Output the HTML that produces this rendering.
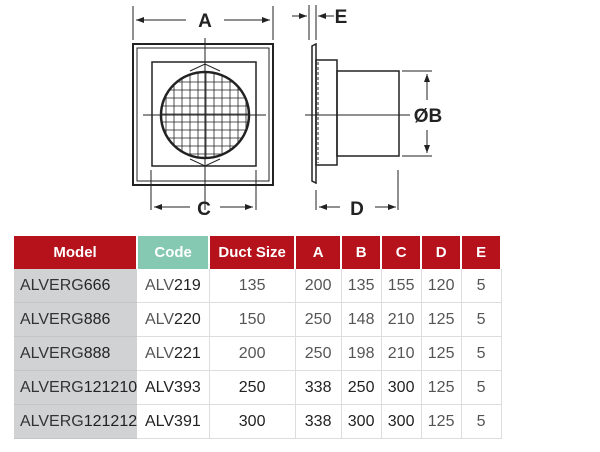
<!DOCTYPE html>
<html><head><meta charset="utf-8"><style>
body{margin:0;background:#fff;width:600px;height:452px;position:relative;overflow:hidden;font-family:"Liberation Sans",sans-serif}
svg{position:absolute;left:0;top:0}
table{position:absolute;left:14px;top:236px;border-collapse:collapse;table-layout:fixed}
td{height:33px;padding:0;text-align:center;font-size:16px;color:#555;border-bottom:1px solid #ddd;border-right:1px solid #ddd}
th{height:33px;padding:0;background:#b5121b;color:#fff;font-family:"Liberation Sans Narrow","Liberation Sans",sans-serif;font-weight:bold;font-size:15px;border-right:2px solid #fff}
th.c{background:#85c9b3}
td.m{background:#d1d2d4;text-align:left;padding-left:6px;color:#333;border-right:none;border-bottom:1px solid #c4c5c7}
b{color:#222;font-weight:normal}
tr.k td:not(.m){color:#222}
</style></head><body>
<svg width="600" height="230" viewBox="0 0 600 230">
<defs>
<marker id="ar" markerWidth="8" markerHeight="6" refX="8" refY="3" orient="auto" markerUnits="userSpaceOnUse"><path d="M0,0L8,3L0,6z" fill="#222"/></marker>
<clipPath id="cc"><ellipse cx="205" cy="115" rx="44" ry="43"/></clipPath>
</defs>
<g fill="none" stroke="#222">
<rect x="133" y="44" width="140" height="141" stroke-width="2"/>
<rect x="137" y="48" width="132" height="133" stroke-width="1"/>
<rect x="152" y="62" width="104" height="104" stroke-width="1.5"/>
<path d="M190,71L205,64L220,71M190,159L205,166L220,159" stroke-width="1"/>
<g stroke-width="0.8" clip-path="url(#cc)">
<path d="M166,60V170M174,60V170M182,60V170M190,60V170M198,60V170M206,60V170M214,60V170M222,60V170M230,60V170M238,60V170M246,60V170"/>
<path d="M150,82H260M150,90H260M150,98H260M150,106H260M150,114H260M150,122H260M150,130H260M150,138H260M150,146H260M150,154H260"/>
</g>
<ellipse cx="205" cy="115" rx="44" ry="43" stroke-width="2.5"/>
<path d="M205,38V210M143,115H266" stroke-width="1"/>
<path d="M133,6V40M273,6V40M151,170V210M256,170V210" stroke-width="1"/>
<g stroke-width="1">
<line x1="186" y1="20" x2="136" y2="20" marker-end="url(#ar)"/>
<line x1="224" y1="20" x2="270" y2="20" marker-end="url(#ar)"/>
<line x1="190" y1="207" x2="154" y2="207" marker-end="url(#ar)"/>
<line x1="220" y1="207" x2="253" y2="207" marker-end="url(#ar)"/>
<line x1="292" y1="16" x2="307" y2="16" marker-end="url(#ar)"/>
<line x1="334" y1="16" x2="318" y2="16" marker-end="url(#ar)"/>
<line x1="340" y1="207" x2="319" y2="207" marker-end="url(#ar)"/>
<line x1="375" y1="207" x2="396" y2="207" marker-end="url(#ar)"/>
<line x1="427" y1="100" x2="427" y2="74" marker-end="url(#ar)"/>
<line x1="427" y1="130" x2="427" y2="153" marker-end="url(#ar)"/>
</g>
<path d="M312,46L316,44V183L312,181Z" stroke-width="1.5"/>
<rect x="316" y="60" width="21" height="105" stroke-width="1.5"/>
<rect x="337" y="71" width="62" height="85" stroke-width="1.5"/>
<path d="M318,62V163" stroke-dasharray="3,2"/>
<path d="M309,5V40M316,5V40M398,170V210M316,190V210M402,71H432M402,156H432M305,115H410" stroke-width="1"/>
</g>
<g font-family="Liberation Sans,sans-serif" font-size="19" font-weight="bold" fill="#222" text-anchor="middle">
<text x="205" y="27">A</text><text x="204" y="215">C</text><text x="341" y="23">E</text><text x="357" y="215">D</text><text x="428" y="122">ØB</text>
</g>
</svg>
<table>
<colgroup><col style="width:117px"><col style="width:72px"><col style="width:86px"><col style="width:46px"><col style="width:40px"><col style="width:40px"><col style="width:40px"><col style="width:40px"></colgroup>
<tr><th>Model</th><th class="c">Code</th><th>Duct Size</th><th>A</th><th>B</th><th>C</th><th>D</th><th>E</th></tr>
<tr><td class="m">ALVERG<b>666</b></td><td>ALV<b>219</b></td><td>135</td><td>200</td><td>135</td><td>155</td><td>120</td><td>5</td></tr>
<tr><td class="m">ALVERG<b>886</b></td><td>ALV<b>220</b></td><td>150</td><td>250</td><td>148</td><td>210</td><td>125</td><td>5</td></tr>
<tr><td class="m">ALVERG<b>888</b></td><td>ALV<b>221</b></td><td>200</td><td>250</td><td>198</td><td>210</td><td>125</td><td>5</td></tr>
<tr class="k"><td class="m">ALVERG<b>121210</b></td><td>ALV<b>393</b></td><td>250</td><td>338</td><td>250</td><td>300</td><td style="color:#555">125</td><td style="color:#555">5</td></tr>
<tr class="k"><td class="m">ALVERG<b>121212</b></td><td>ALV<b>391</b></td><td>300</td><td>338</td><td>300</td><td>300</td><td style="color:#555">125</td><td style="color:#555">5</td></tr>
</table>
</body></html>
